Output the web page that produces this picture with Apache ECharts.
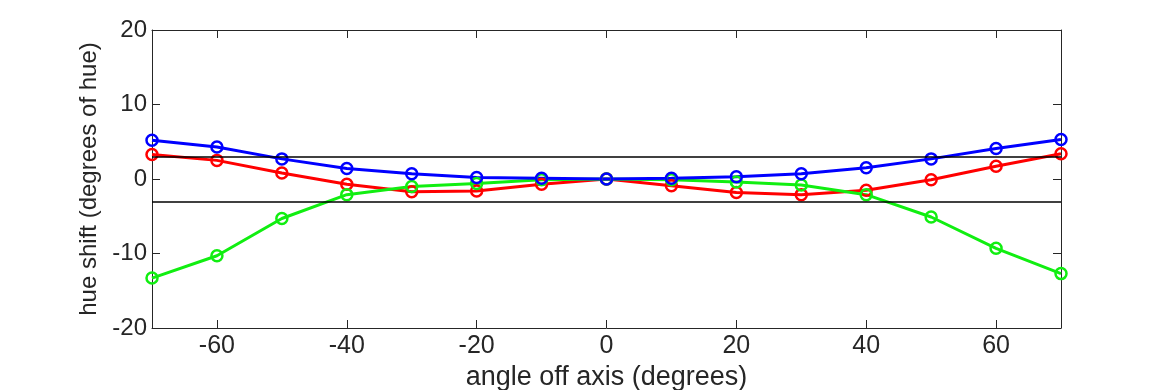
<!DOCTYPE html>
<html><head><meta charset="utf-8">
<script src="https://cdn.jsdelivr.net/npm/echarts@6/dist/echarts.min.js"></script>
<style>html,body{margin:0;padding:0;background:#fff}#c{width:1170px;height:390px}</style>
</head><body><div id="c"></div>
<script>
const angles = [-70,-60,-50,-40,-30,-20,-10,0,10,20,30,40,50,60,70];
const redShift   = [3.3,2.5,0.8,-0.7,-1.7,-1.6,-0.7,0,-0.9,-1.8,-2.1,-1.5,-0.1,1.7,3.4];
const greenShift = [-13.3,-10.3,-5.3,-2.1,-1.0,-0.6,-0.1,0,-0.1,-0.4,-0.8,-2.1,-5.1,-9.3,-12.7];
const blueShift  = [5.2,4.3,2.7,1.4,0.7,0.2,0.1,0,0.1,0.3,0.7,1.5,2.7,4.1,5.3];
const thresholds = [3,-3];
const xTicks = [-60,-40,-20,0,20,40,60];
const yTicks = [-20,-10,0,10,20];

const pair = arr => angles.map((a,i)=>[a,arr[i]]);
const font = 'Liberation Sans, Arial, sans-serif';
const axisColor = '#262626';
function mk(name,color,arr){
  return {name,type:'line',data:pair(arr),symbol:'circle',symbolSize:11,
    lineStyle:{color,width:3},itemStyle:{color:'rgba(0,0,0,0)',borderColor:color,borderWidth:2.5},
    emphasis:{disabled:true},animation:false,z:3};
}
const chart = echarts.init(document.getElementById('c'),null,{renderer:'canvas'});
chart.setOption({
  animation:false,
  grid:{left:152,right:109,top:30,bottom:62,outerBoundsMode:'none',containLabel:false},
  xAxis:[{type:'value',min:-70,max:70,interval:10,
    axisLine:{show:true,onZero:false,lineStyle:{color:axisColor,width:1}},
    axisTick:{show:true,inside:true,length:8,lineStyle:{color:axisColor},customValues:xTicks},
    axisLabel:{color:'#262626',fontSize:25,fontFamily:font,margin:6,customValues:xTicks},
    splitLine:{show:false},
    name:'angle off axis (degrees)',nameLocation:'middle',nameGap:36,
    nameTextStyle:{color:'#262626',fontSize:27,fontFamily:font}},
   {type:'value',position:'top',min:-70,max:70,interval:10,
    axisLine:{show:true,onZero:false,lineStyle:{color:axisColor,width:1}},
    axisTick:{show:true,inside:true,length:8,lineStyle:{color:axisColor},customValues:xTicks},
    axisLabel:{show:false},splitLine:{show:false}}],
  yAxis:[{type:'value',min:-20,max:20,interval:10,
    axisLine:{show:true,onZero:false,lineStyle:{color:axisColor,width:1}},
    axisTick:{show:true,inside:true,length:8,lineStyle:{color:axisColor},customValues:yTicks},
    axisLabel:{color:'#262626',fontSize:24,fontFamily:font,margin:5,customValues:yTicks},
    splitLine:{show:false},
    name:'hue shift (degrees of hue)',nameLocation:'middle',nameGap:37,
    nameTextStyle:{color:'#262626',fontSize:24,fontFamily:font}},
   {type:'value',position:'right',min:-20,max:20,interval:10,
    axisLine:{show:true,onZero:false,lineStyle:{color:axisColor,width:1}},
    axisTick:{show:true,inside:true,length:8,lineStyle:{color:axisColor},customValues:yTicks},
    axisLabel:{show:false},splitLine:{show:false}}],
  series:[
    {type:'line',data:[],markLine:{silent:true,symbol:'none',label:{show:false},
      lineStyle:{color:'#000',width:1.5,type:'solid'},
      data:thresholds.map(v=>({yAxis:v}))},z:2},
    mk('red','#ff0000',redShift),
    mk('green','#11ee11',greenShift),
    mk('blue','#0000ff',blueShift)
  ]
});
</script></body></html>
